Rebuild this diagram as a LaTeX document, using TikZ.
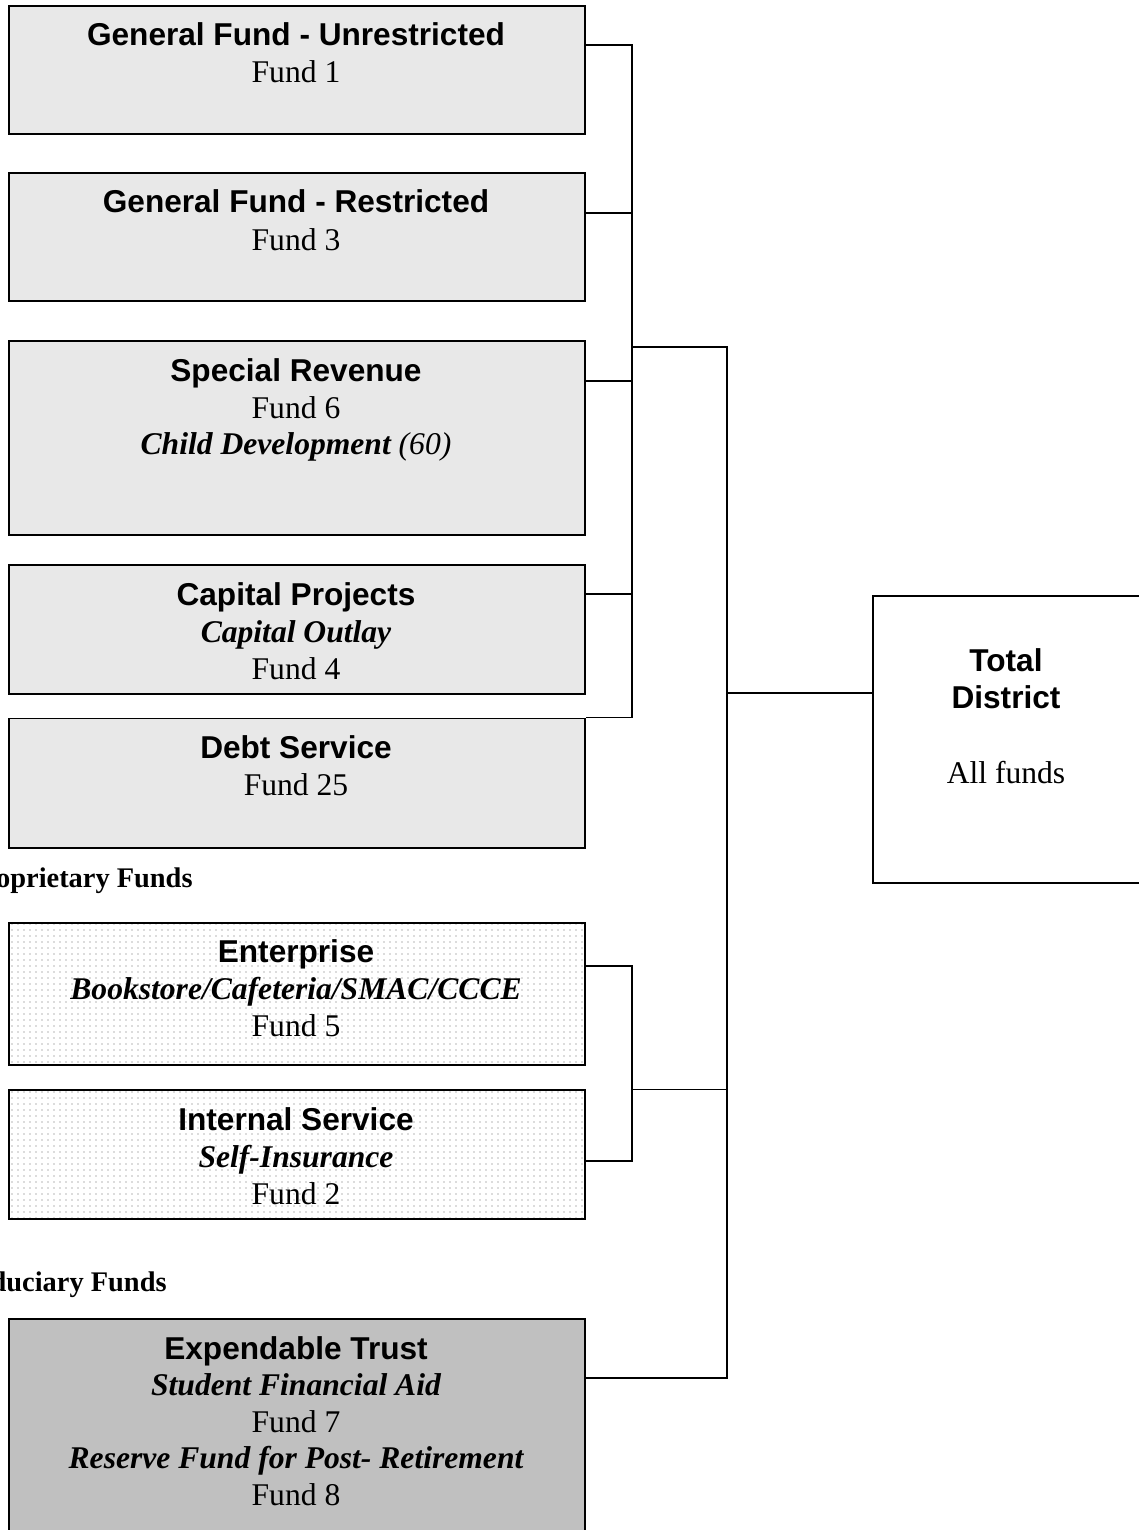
\documentclass[tikz,border=0pt]{standalone}
\usepackage{fontspec}
\setmainfont{Liberation Serif}
\setsansfont{Liberation Sans}
\usetikzlibrary{patterns.meta}
\definecolor{gfill}{RGB}{232,232,232}
\definecolor{ffill}{RGB}{192,192,192}
\definecolor{dotc}{RGB}{185,185,185}
\begin{document}
\begin{tikzpicture}[x=0.5pt,y=-0.5pt,
  box/.style={draw, line width=0.9pt, inner sep=0pt, anchor=north west, minimum width=288pt},
  gov/.style={box, fill=gfill},
  prop/.style={box, pattern={Dots[distance=3pt, radius=0.45pt]}, pattern color=dotc},
  fid/.style={box, fill=ffill},
  ttl/.style={font=\sffamily\bfseries\fontsize{15.8}{18}\selectfont, inner sep=0pt, anchor=base},
  txt/.style={font=\rmfamily\fontsize{15.8}{18}\selectfont, inner sep=0pt, anchor=base},
  itl/.style={font=\rmfamily\bfseries\itshape\fontsize{15.8}{18}\selectfont, inner sep=0pt, anchor=base},
  lbl/.style={font=\rmfamily\bfseries\fontsize{14.2}{17}\selectfont, inner sep=0pt, anchor=base east},
  conn/.style={line width=0.9pt}]
\useasboundingbox (0,0) rectangle (1139,1530);

% boxes
\node[gov, minimum height=64pt] (b1) at (8,5) {};
\node[gov, minimum height=64pt] (b2) at (8,172) {};
\node[gov, minimum height=97pt] (b3) at (8,340) {};
\node[gov, minimum height=64.5pt] (b4) at (8,564) {};
\node[gov, minimum height=64.75pt] (b5) at (8,717.5) {};
\node[prop, minimum height=71pt] (b6) at (8,922) {};
\node[prop, minimum height=64.5pt] (b7) at (8,1089) {};
\node[fid, minimum height=115pt] (b8) at (8,1318) {};
\node[box, minimum width=135pt, minimum height=143.5pt] (T) at (872,595) {};

% texts
\node[ttl] (t1a) at (296,45.5) {General Fund - Unrestricted};
\node[txt] (t1b) at (296,83) {Fund 1};
\node[ttl] (t2a) at (296,213) {General Fund - Restricted};
\node[txt] (t2b) at (296,250.5) {Fund 3};
\node[ttl] (t3a) at (296,381) {Special Revenue};
\node[txt] (t3b) at (296,418) {Fund 6};
\node[txt] (t3c) at (296,454) {{\bfseries\itshape Child Development} \textit{(60)}};
\node[ttl] (t4a) at (296,605.5) {Capital Projects};
\node[itl] (t4b) at (296,642) {Capital Outlay};
\node[txt] (t4c) at (296,679) {Fund 4};
\node[ttl] (t5a) at (296,758.5) {Debt Service};
\node[txt] (t5b) at (296,795.5) {Fund 25};
\node[ttl] (t6a) at (296,962) {Enterprise};
\node[itl] (t6b) at (296,999) {Bookstore/Cafeteria/SMAC/CCCE};
\node[txt] (t6c) at (296,1036.5) {Fund 5};
\node[ttl] (t7a) at (296,1130.5) {Internal Service};
\node[itl] (t7b) at (296,1167.5) {Self-Insurance};
\node[txt] (t7c) at (296,1204.5) {Fund 2};
\node[ttl] (t8a) at (296,1359.5) {Expendable Trust};
\node[itl] (t8b) at (296,1395.5) {Student Financial Aid};
\node[txt] (t8c) at (296,1432.5) {Fund 7};
\node[itl] (t8d) at (296,1468.5) {Reserve Fund for Post- Retirement};
\node[txt] (t8e) at (296,1505) {Fund 8};
\node[ttl] (tTa) at (1006,671) {Total};
\node[ttl] (tTb) at (1006,708) {District};
\node[txt] (tTc) at (1006,783) {All funds};

% section labels (cut at the left edge, as in the original)
\node[lbl] (lp) at (193,887) {Proprietary Funds};
\node[lbl] (lf) at (167,1291.5) {Fiduciary Funds};

% governmental bus
\coordinate (g1) at (632,45);
\coordinate (g2) at (632,213);
\coordinate (g3) at (632,381);
\coordinate (g4) at (632,594);
\coordinate (g5) at (632,717.5);
\coordinate (gj) at (632,347);
\draw[conn] (b1.east |- g1) -- (g1) -- (g5) -- (b5.north east);
\draw[conn] (b2.east |- g2) -- (g2);
\draw[conn] (b3.east |- g3) -- (g3);
\draw[conn] (b4.east |- g4) -- (g4);

% main bus
\coordinate (m1) at (727,347);
\coordinate (m2) at (727,693);
\coordinate (m3) at (727,1089.5);
\coordinate (m4) at (727,1378);
\draw[conn] (gj) -- (m1) -- (m4) -- (b8.east |- m4);
\draw[conn] (m2) -- (T.west |- m2);

% proprietary bracket
\coordinate (p1) at (632,966);
\coordinate (p2) at (632,1161);
\coordinate (pj) at (632,1089.5);
\draw[conn] (b6.east |- p1) -- (p1) -- (p2) -- (b7.east |- p2);
\draw[conn] (pj) -- (m3);
\end{tikzpicture}
\end{document}
